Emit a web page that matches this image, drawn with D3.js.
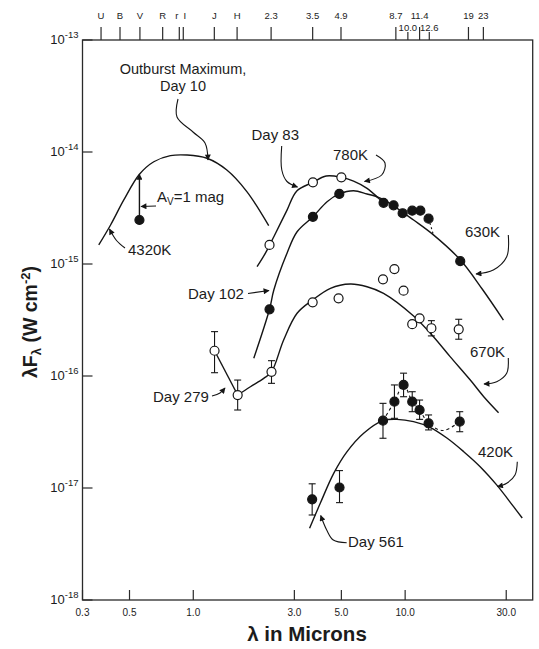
<!DOCTYPE html>
<html><head><meta charset="utf-8">
<script src="https://cdnjs.cloudflare.com/ajax/libs/d3/7.8.5/d3.min.js"></script>
<style>
body{margin:0;background:#fff}
svg{display:block}
text{font-family:"Liberation Sans",Arial,Helvetica,sans-serif;fill:#1c1c1c}
</style>
</head><body>
<svg id="chart" width="539" height="649"></svg>
<script>
// ---------- DATA ----------
const xDomain = [0.3, 40];
const yDomain = [1e-18, 1e-13];
const bottomTicks = [0.3, 0.5, 1.0, 3.0, 5.0, 10.0, 30.0];
const bottomTickLabels = ["0.3", "0.5", "1.0", "3.0", "5.0", "10.0", "30.0"];
const yTickExponents = [-13, -14, -15, -16, -17, -18];
const bandPositions = [0.367, 0.451, 0.560, 0.717, 0.859, 0.897, 1.257, 1.61, 2.33, 3.66, 4.98, 9.04, 10.3, 11.7, 13.0, 19.9, 23.4];
const bandLabels = ["U", "B", "V", "R", "r", "I", "J", "H", "2.3", "3.5", "4.9", "8.7", "10.0", "11.4", "12.6", "19", "23"];
const bandRow = [0,0,0,0,0,0,0,0,0,0,0,0,1,0,1,0,0];

// Day 10 (outburst maximum), 4320 K
const day10Curve = [[0.358,1.48e-15],[0.407,2.23e-15],[0.470,3.73e-15],[0.557,6.32e-15],[0.651,8.18e-15],[0.780,9.27e-15],[0.935,9.39e-15],[1.16,8.79e-15],[1.44,6.9e-15],[1.79,4.43e-15],[2.27,2.2e-15]];
const day10Point = [[0.557, 2.47e-15]];
const day10Dereddened = [[0.557, 6.32e-15]];

// Day 83, 780 K (open circles)
const day83Curve = [[2.0,9.46e-16],[2.19,1.25e-15],[2.40,1.75e-15],[2.77,3.03e-15],[3.08,4.49e-15],[3.67,5.36e-15],[4.24,6.1e-15],[5.0,5.94e-15],[5.71,5.5e-15],[6.61,4.74e-15],[7.49,3.87e-15],[7.91,3.52e-15]];
const day83Points = [[2.29,1.48e-15],[3.67,5.36e-15],[5.0,5.94e-15]];

// Day 102, 630 K (filled circles)
const day102Curve = [[1.93,1.44e-16],[2.29,3.94e-16],[2.40,5.86e-16],[2.77,1.25e-15],[3.09,1.94e-15],[3.67,2.64e-15],[4.28,3.6e-15],[4.89,4.22e-15],[5.71,4.51e-15],[6.61,4.22e-15],[7.49,3.94e-15],[8.15,3.65e-15],[10.96,2.47e-15],[13.6,1.82e-15],[18.2,1.09e-15],[23.1,5.98e-16],[29.1,3.16e-16]];
const day102Points = [[2.29,3.94e-16],[3.67,2.64e-15],[4.89,4.22e-15],[7.91,3.52e-15],[8.82,3.34e-15],[9.73,2.84e-15],[10.8,2.99e-15],[11.8,2.99e-15],[12.9,2.54e-15],[18.2,1.06e-15]];
const day102Dashed = [[12.9,2.54e-15],[13.6,1.82e-15]];

// Day 279, 670 K (open circles)
const day279Segment = [[1.26,1.68e-16],[1.62,6.76e-17]];
const day279Curve = [[1.62,6.76e-17],[1.86,8.02e-17],[2.15,9.53e-17],[2.34,1.09e-16],[2.67,2.1e-16],[3.09,3.63e-16],[3.66,4.77e-16],[4.44,6.07e-16],[5.51,6.63e-16],[6.61,6.27e-16],[7.91,5.47e-16],[10.96,3.43e-16],[13.6,2.24e-16],[16.3,1.49e-16],[20.3,9.2e-17],[23.5,6.53e-17],[27.6,4.7e-17]];
const day279Points = [[1.26,1.68e-16],[1.62,6.76e-17],[2.34,1.09e-16],[3.66,4.55e-16],[4.85,4.94e-16],[7.86,7.3e-16],[8.9,9.0e-16],[9.83,5.78e-16],[10.8,2.9e-16],[11.7,3.27e-16],[13.3,2.67e-16],[17.9,2.61e-16]];
const day279Errors = [[1.26,1.07e-16,2.49e-16],[1.62,4.97e-17,9.2e-17],[2.34,8.6e-17,1.37e-16],[13.3,2.28e-16,3.12e-16],[17.9,2.13e-16,3.21e-16]];

// Day 561, 420 K (filled circles)
const day561Curve = [[3.54,4.37e-18],[3.98,7.34e-18],[4.6,1.35e-17],[5.32,2.11e-17],[6.37,3.08e-17],[7.86,3.99e-17],[9.15,4.1e-17],[10.96,3.91e-17],[13.1,3.48e-17],[15.8,2.78e-17],[18.9,2.11e-17],[22.6,1.55e-17],[27.1,1.06e-17],[32.5,6.81e-18],[35.7,5.4e-18]];
const day561Points = [[3.64,7.92e-18],[4.9,1.01e-17],[7.86,3.99e-17],[8.9,5.9e-17],[9.83,8.32e-17],[10.8,5.9e-17],[11.7,4.97e-17],[12.9,3.78e-17],[18.1,3.91e-17]];
const day561Errors = [[3.64,5.74e-18,1.09e-17],[4.9,7.4e-18,1.43e-17],[7.86,2.78e-17,5.7e-17],[8.9,4.19e-17,8.32e-17],[9.83,6.53e-17,1.06e-16],[10.8,4.8e-17,7.24e-17],[11.7,4.1e-17,6.1e-17],[12.9,3.3e-17,4.49e-17],[18.1,3.18e-17,4.8e-17]];
const day561Dashed = [[7.86,3.99e-17],[8.9,5.9e-17],[9.83,8.32e-17],[10.8,5.9e-17],[11.7,4.97e-17],[12.9,3.78e-17],[15.1,3.26e-17],[18.1,3.91e-17]];

// ---------- LAYOUT ----------
const L = 82.5, R = 532.7, T = 40, B = 600;
const ink = "#151515";
const svg = d3.select("#chart");
const x = d3.scaleLog().domain(xDomain).range([L, R]);
const y = d3.scaleLog().domain(yDomain).range([B, T]);

const defs = svg.append("defs");
defs.append("marker").attr("id","ah").attr("viewBox","0 0 10 10")
  .attr("refX",9).attr("refY",5).attr("markerWidth",8).attr("markerHeight",6)
  .attr("markerUnits","userSpaceOnUse").attr("orient","auto")
  .append("path").attr("d","M0,0 L10,5 L0,10 Z").attr("fill",ink);

// frame
svg.append("rect").attr("x",L).attr("y",T).attr("width",R-L).attr("height",B-T)
  .attr("fill","none").attr("stroke","#2a2a2a").attr("stroke-width",1.3);

// bottom axis (ticks inward)
const gB = svg.append("g");
gB.selectAll("line").data(bottomTicks).join("line")
  .attr("x1",d=>x(d)).attr("x2",d=>x(d)).attr("y1",B).attr("y2",B-10)
  .attr("stroke","#2a2a2a").attr("stroke-width",1.2);
gB.selectAll("text").data(bottomTicks).join("text")
  .attr("x",d=>x(d)).attr("y",B+16).attr("text-anchor","middle")
  .attr("font-size",10).text((d,i)=>bottomTickLabels[i]);

// left axis
const gL = svg.append("g");
gL.selectAll("line").data(yTickExponents).join("line")
  .attr("x1",L).attr("x2",L+10).attr("y1",d=>y(Math.pow(10,d))).attr("y2",d=>y(Math.pow(10,d)))
  .attr("stroke","#2a2a2a").attr("stroke-width",1.2);
const yl = gL.selectAll("text").data(yTickExponents).join("text")
  .attr("x",L-4).attr("y",d=>y(Math.pow(10,d))+4).attr("text-anchor","end").attr("font-size",13);
yl.append("tspan").text("10");
yl.append("tspan").attr("dy",-6).attr("font-size",9.5).text(d=>String(d));

// top band axis
const gT = svg.append("g");
gT.selectAll("line").data(bandPositions).join("line")
  .attr("x1",d=>x(d)).attr("x2",d=>x(d)).attr("y1",T)
  .attr("y2",(d,i)=>bandRow[i] ? T-8 : T-13)
  .attr("stroke","#2a2a2a").attr("stroke-width",1.2);
gT.selectAll("text").data(bandPositions).join("text")
  .attr("x",(d,i)=> x(d) + (bandLabels[i]==="r" ? -2.5 : bandLabels[i]==="I" ? 1.5 : 0))
  .attr("y",(d,i)=>bandRow[i] ? 30.5 : 19)
  .attr("text-anchor","middle").attr("font-size",9.5).text((d,i)=>bandLabels[i]);

// axis titles
svg.append("text").attr("x",307).attr("y",641).attr("text-anchor","middle")
  .attr("font-size",20.5).attr("font-weight","bold").text("λ in Microns");
const yt = svg.append("text").attr("transform","translate(37,322) rotate(-90)")
  .attr("text-anchor","middle").attr("font-size",19.5).attr("font-weight","bold");
yt.append("tspan").text("λF");
yt.append("tspan").attr("font-size",13).attr("dy",4).text("λ");
yt.append("tspan").attr("dy",-4).text(" (W cm");
yt.append("tspan").attr("font-size",13).attr("dy",-7).text("-2");
yt.append("tspan").attr("dy",7).text(")");

// ---------- CURVES ----------
const smooth = d3.line().x(d=>x(d[0])).y(d=>y(d[1])).curve(d3.curveCatmullRom.alpha(0.5));
const straight = d3.line().x(d=>x(d[0])).y(d=>y(d[1]));
const gC = svg.append("g").attr("fill","none").attr("stroke",ink).attr("stroke-width",1.4);
[day10Curve, day83Curve, day102Curve, day279Curve, day561Curve].forEach(c=>{
  gC.append("path").attr("d",smooth(c));
});
gC.append("path").attr("d",straight(day279Segment));
gC.append("path").attr("d",straight(day102Dashed)).attr("stroke-dasharray","2,2.5").attr("stroke-width",1.1);
gC.append("path").attr("d",smooth(day561Dashed)).attr("stroke-dasharray","3,3").attr("stroke-width",1.1);

// extinction arrow (A_V = 1 mag)
svg.append("line")
  .attr("x1",x(day10Point[0][0])).attr("x2",x(day10Dereddened[0][0]))
  .attr("y1",y(day10Point[0][1])).attr("y2",y(day10Dereddened[0][1]))
  .attr("stroke",ink).attr("stroke-width",1.4).attr("marker-end","url(#ah)");

// ---------- ERROR BARS ----------
const gE = svg.append("g").attr("stroke",ink).attr("stroke-width",1.1);
[...day279Errors, ...day561Errors].forEach(e=>{
  const cx = x(e[0]);
  gE.append("line").attr("x1",cx).attr("x2",cx).attr("y1",y(e[1])).attr("y2",y(e[2]));
  gE.append("line").attr("x1",cx-3.5).attr("x2",cx+3.5).attr("y1",y(e[1])).attr("y2",y(e[1]));
  gE.append("line").attr("x1",cx-3.5).attr("x2",cx+3.5).attr("y1",y(e[2])).attr("y2",y(e[2]));
});

// ---------- POINTS ----------
const gP = svg.append("g");
function dots(data, filled){
  gP.selectAll(null).data(data).join("circle")
    .attr("cx",d=>x(d[0])).attr("cy",d=>y(d[1])).attr("r",4.5)
    .attr("fill",filled ? ink : "#fff").attr("stroke",ink).attr("stroke-width",1.2);
}
dots(day10Point,true);
dots(day83Points,false);
dots(day102Points,true);
dots(day279Points,false);
dots(day561Points,true);

// ---------- ANNOTATIONS ----------
const gA = svg.append("g").attr("font-size",15);
function label(t, px, py, anchor, fs){
  const el = gA.append("text").attr("x",px).attr("y",py).attr("text-anchor",anchor||"start").text(t);
  if (fs) el.attr("font-size",fs);
}
label("Outburst Maximum,",183,74,"middle",14.5);
label("Day 10",183,91,"middle",14.5);
label("4320K",128,255);
label("Day 83",251.5,140);
label("780K",333,160);
label("Day 102",188,298.5);
label("630K",465,237);
label("670K",470,357);
label("Day 279",153,402);
label("420K",478,457);
label("Day 561",348,547);
const av = gA.append("text").attr("x",157).attr("y",202);
av.append("tspan").text("A");
av.append("tspan").attr("font-size",10).attr("dy",3).text("V");
av.append("tspan").attr("dy",-3).text("=1 mag");

const lead = d3.line().curve(d3.curveCatmullRom.alpha(0.5));
const leaders = [
  [[178,99],[177,117],[193,132],[205,143],[208,160]],
  [[156,206],[141,206.5]],
  [[125,248],[116.5,240.5],[109.5,229]],
  [[281.7,146],[281.8,170],[287,181.5],[297.5,187]],
  [[376,155],[385,163],[381.7,175],[364.5,181.5]],
  [[248,293.5],[269,290.5]],
  [[508.3,235],[506.7,256.7],[493.3,270],[476,274]],
  [[508.3,358],[506.7,373.3],[496.7,381.7],[484,384]],
  [[212,396],[220,393],[225,388]],
  [[517.3,461.7],[515,475],[506.7,483.3],[497.5,486.5]],
  [[346.7,542.7],[333.3,540],[326.7,530],[320.7,515.5]]
];
const gLd = svg.append("g").attr("fill","none").attr("stroke",ink).attr("stroke-width",1.1);
leaders.forEach(p=>{
  gLd.append("path").attr("d",lead(p)).attr("marker-end","url(#ah)");
});
</script>
</body></html>
